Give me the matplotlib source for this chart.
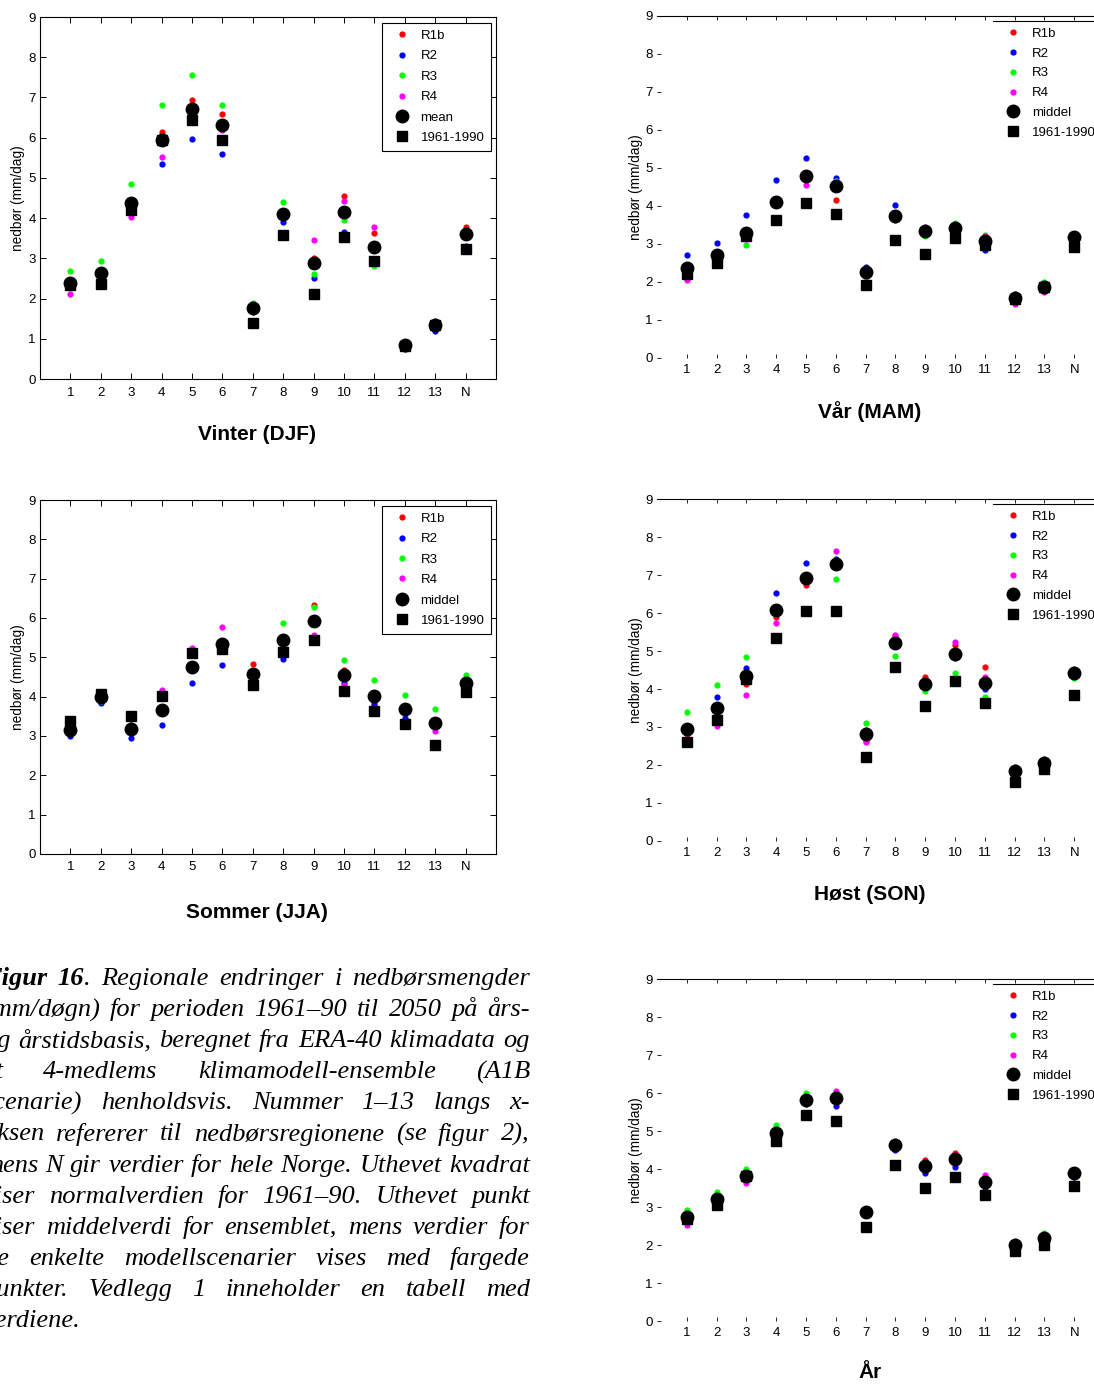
import matplotlib
matplotlib.use('Agg')
import matplotlib.pyplot as plt

plt.rcParams['font.family'] = ['Liberation Sans', 'DejaVu Sans']

regions = ['1', '2', '3', '4', '5', '6', '7', '8', '9', '10', '11', '12', '13', 'N']
x = list(range(1, 15))

# Vinter (DJF)
vinter_r1b = [2.40, 2.62, 4.35, 6.13, 6.94, 6.60, 1.76, 4.04, 3.02, 4.55, 3.64, 0.86, 1.36, 3.79]
vinter_r2 = [2.45, 2.60, 4.30, 5.34, 5.96, 5.60, 1.67, 3.91, 2.50, 3.66, 2.90, 0.84, 1.19, 3.31]
vinter_r3 = [2.69, 2.94, 4.86, 6.82, 7.55, 6.82, 1.90, 4.39, 2.62, 3.96, 2.81, 0.86, 1.37, 3.65]
vinter_r4 = [2.11, 2.30, 4.03, 5.51, 6.43, 6.19, 1.75, 4.06, 3.46, 4.43, 3.77, 0.74, 1.45, 3.65]
vinter_mean = [2.39, 2.63, 4.37, 5.93, 6.72, 6.31, 1.77, 4.10, 2.89, 4.15, 3.28, 0.85, 1.34, 3.60]
vinter_norm = [2.34, 2.36, 4.20, 5.95, 6.43, 5.95, 1.38, 3.59, 2.11, 3.52, 2.94, 0.83, 1.35, 3.23]

# Sommer (JJA)
sommer_r1b = [3.25, 4.10, 3.15, 3.60, 4.70, 5.35, 4.83, 5.45, 6.32, 4.67, 3.78, 3.62, 3.28, 4.37]
sommer_r2 = [2.99, 3.85, 2.95, 3.27, 4.35, 4.80, 4.41, 4.95, 5.51, 4.35, 3.84, 3.46, 3.23, 4.06]
sommer_r3 = [3.20, 3.89, 3.18, 3.65, 4.71, 5.41, 4.55, 5.87, 6.27, 4.92, 4.42, 4.04, 3.68, 4.55]
sommer_r4 = [3.20, 4.10, 3.43, 4.16, 5.24, 5.76, 4.55, 5.45, 5.58, 4.30, 4.04, 3.64, 3.13, 4.38]
sommer_mean = [3.16, 3.99, 3.17, 3.67, 4.75, 5.33, 4.58, 5.43, 5.92, 4.56, 4.02, 3.69, 3.33, 4.34]
sommer_norm = [3.38, 4.07, 3.51, 4.01, 5.11, 5.21, 4.29, 5.13, 5.44, 4.15, 3.63, 3.30, 2.78, 4.12]

# Vår (MAM)
var_r1b = [2.35, 2.60, 3.28, 4.02, 4.70, 4.17, 2.25, 3.62, 3.30, 3.35, 3.00, 1.58, 1.88, 3.09]
var_r2 = [2.71, 3.02, 3.77, 4.68, 5.27, 4.75, 2.39, 4.02, 3.30, 3.35, 2.83, 1.69, 1.88, 3.27]
var_r3 = [2.34, 2.60, 2.98, 4.05, 4.69, 4.66, 2.14, 3.66, 3.22, 3.55, 3.24, 1.58, 2.01, 3.20]
var_r4 = [2.04, 2.62, 3.13, 3.69, 4.54, 4.50, 2.25, 3.66, 3.46, 3.35, 3.21, 1.42, 1.75, 3.20]
var_mean = [2.36, 2.71, 3.29, 4.11, 4.80, 4.52, 2.26, 3.74, 3.33, 3.41, 3.07, 1.57, 1.88, 3.19]
var_norm = [2.21, 2.49, 3.21, 3.63, 4.09, 3.79, 1.91, 3.11, 2.75, 3.17, 2.98, 1.55, 1.87, 2.91]

# Høst (SON)
host_r1b = [2.82, 3.12, 4.13, 5.89, 6.75, 7.21, 2.64, 5.40, 4.32, 5.16, 4.58, 1.96, 2.17, 4.52]
host_r2 = [2.95, 3.78, 4.54, 6.53, 7.32, 7.43, 2.92, 5.13, 4.10, 4.82, 3.99, 1.85, 2.02, 4.40]
host_r3 = [3.39, 4.11, 4.84, 6.17, 6.84, 6.89, 3.11, 4.88, 3.95, 4.43, 3.78, 1.85, 2.00, 4.30]
host_r4 = [2.68, 3.03, 3.84, 5.73, 6.81, 7.63, 2.61, 5.43, 4.10, 5.25, 4.32, 1.76, 2.00, 4.42]
host_mean = [2.96, 3.51, 4.33, 6.08, 6.93, 7.29, 2.82, 5.21, 4.12, 4.92, 4.17, 1.85, 2.04, 4.41]
host_norm = [2.60, 3.18, 4.26, 5.35, 6.04, 6.05, 2.22, 4.58, 3.54, 4.21, 3.64, 1.54, 1.90, 3.84]

# År
ar_r1b = [2.70, 3.20, 3.72, 4.90, 5.80, 5.90, 2.88, 4.65, 4.24, 4.43, 3.75, 1.98, 2.15, 3.92]
ar_r2 = [2.70, 3.20, 3.90, 4.88, 5.70, 5.66, 2.85, 4.51, 3.89, 4.04, 3.45, 1.95, 2.13, 3.78]
ar_r3 = [2.91, 3.39, 3.99, 5.17, 6.01, 5.90, 2.92, 4.75, 4.10, 4.25, 3.60, 2.11, 2.31, 3.92]
ar_r4 = [2.53, 3.15, 3.62, 4.88, 5.78, 6.04, 2.87, 4.65, 4.10, 4.37, 3.84, 1.96, 2.14, 3.95]
ar_mean = [2.73, 3.22, 3.82, 4.96, 5.82, 5.87, 2.88, 4.64, 4.09, 4.27, 3.65, 2.00, 2.18, 3.90]
ar_norm = [2.68, 3.04, 3.82, 4.75, 5.43, 5.26, 2.48, 4.11, 3.49, 3.79, 3.32, 1.84, 2.00, 3.54]

caption_lines = [
    "Figur 16. Regionale endringer i nedbørsmengder",
    "(mm/døgn) for perioden 1961–90 til 2050 på års-",
    "og årstidsbasis, beregnet fra ERA-40 klimadata og",
    "et 4-medlems klimamodell-ensemble (A1B",
    "scenarie) henholdsvis. Nummer 1–13 langs x-",
    "aksen refererer til nedbørsregionene (se figur 2),",
    "mens N gir verdier for hele Norge. Uthevet kvadrat",
    "viser normalverdien for 1961–90. Uthevet punkt",
    "viser middelverdi for ensemblet, mens verdier for",
    "de enkelte modellscenarier vises med fargede",
    "punkter. Vedlegg 1 inneholder en tabell med",
    "verdiene.",
]

W, H = 1094, 1384
fig = plt.figure(figsize=(W / 100, H / 100), dpi=100)


def rect(l, t, r, b):
    return [l / W, 1 - b / H, (r - l) / W, (b - t) / H]


def panel(r, series, title, tpos, boxed, mean_label):
    ax = fig.add_axes(r)
    r1b, r2, r3, r4, mean, norm = series
    for vals, c, lab in zip((r1b, r2, r3, r4),
                            ('#ff0000', '#0000ff', '#00ff00', '#ff00ff'),
                            ('R1b', 'R2', 'R3', 'R4')):
        ax.plot(x, vals, 'o', color=c, ms=4.5, mec='none', label=lab)
    ax.plot(x, mean, 'o', color='k', ms=9, label=mean_label)
    ax.plot(x, norm, 's', color='k', ms=7, label='1961-1990')
    ax.set_xlim(0, 15)
    ax.set_ylim(0, 9)
    ax.set_xticks(x)
    ax.set_xticklabels(regions)
    ax.set_yticks(range(10))
    ax.set_ylabel('nedbør (mm/dag)', fontsize=9.8)
    legkw = dict(fontsize=9.5, handlelength=2.0, handletextpad=0.42,
                 borderpad=0.5, labelspacing=0.62, borderaxespad=0)
    if boxed:
        ax.yaxis.set_label_coords(-0.033, 0.5)
        for s in ax.spines.values():
            s.set_linewidth(0.8)
        ax.tick_params(direction='in', length=4, width=0.7, top=True, right=True,
                       labelsize=9.5)
        ax.tick_params(axis='x', pad=5.4)
        ax.tick_params(axis='y', pad=3)
        leg = ax.legend(loc='upper right', bbox_to_anchor=(0.989, 0.983),
                        fancybox=False, edgecolor='k', framealpha=1, **legkw)
        leg.get_frame().set_linewidth(0.8)
    else:
        ax.yaxis.set_label_coords(-0.031, 0.5)
        for s in ('left', 'right', 'bottom'):
            ax.spines[s].set_visible(False)
        ax.spines['top'].set_linewidth(0.8)
        ax.tick_params(direction='in', length=3, width=0.6, top=True,
                       labelsize=9.5)
        ax.tick_params(axis='x', pad=4)
        ax.tick_params(axis='y', pad=3)
        legkw['labelspacing'] = 0.57
        ax.legend(loc='upper left', bbox_to_anchor=(0.752, 0.985),
                  frameon=False, **legkw)
        ax.axhline(0.985 * 9, xmin=0.752, xmax=1, color='k', lw=0.8)
    fig.text(tpos[0] / W, 1 - tpos[1] / H, title, ha='center', va='center',
             fontsize=15, fontweight='bold')
    return ax


panel(rect(40, 17, 496, 379),
      (vinter_r1b, vinter_r2, vinter_r3, vinter_r4, vinter_mean, vinter_norm),
      'Vinter (DJF)', (257, 435), True, 'mean')
panel(rect(40, 500, 496, 854),
      (sommer_r1b, sommer_r2, sommer_r3, sommer_r4, sommer_mean, sommer_norm),
      'Sommer (JJA)', (257, 913), True, 'middel')
panel(rect(657, 16, 1104, 358),
      (var_r1b, var_r2, var_r3, var_r4, var_mean, var_norm),
      'Vår (MAM)', (870, 412), False, 'middel')
panel(rect(657, 499, 1104, 841),
      (host_r1b, host_r2, host_r3, host_r4, host_mean, host_norm),
      'Høst (SON)', (870, 895), False, 'middel')
panel(rect(657, 979, 1104, 1321),
      (ar_r1b, ar_r2, ar_r3, ar_r4, ar_mean, ar_norm),
      'År', (870, 1373), False, 'middel')

# justified caption, left edge cut off as in the scan
renderer = fig.canvas.get_renderer()
left_px, right_px = -16, 530
for i, line in enumerate(caption_lines):
    y = 1 - (985 + i * 31.1) / H
    words = []
    for j, w in enumerate(line.split()):
        if i == 0 and j == 0:
            segs = [(w, 'bold')]
        elif i == 0 and j == 1:
            segs = [(w[:-1], 'bold'), ('.', 'normal')]
        else:
            segs = [(w, 'normal')]
        texts = []
        for s, wt in segs:
            t = fig.text(0, y, s, fontsize=19, family='Liberation Serif',
                         style='italic', weight=wt, va='baseline', ha='left')
            texts.append((t, t.get_window_extent(renderer).width))
        words.append(texts)
    widths = [sum(wd for _, wd in ws) for ws in words]
    if i == len(caption_lines) - 1 or len(words) == 1:
        gap = 6
    else:
        gap = (right_px - left_px - sum(widths)) / (len(words) - 1)
    xp = left_px
    for ws, wd in zip(words, widths):
        xx = xp
        for t, tw in ws:
            t.set_x(xx / W)
            xx += tw
        xp += wd + gap

fig.savefig('out.png', dpi=100)
